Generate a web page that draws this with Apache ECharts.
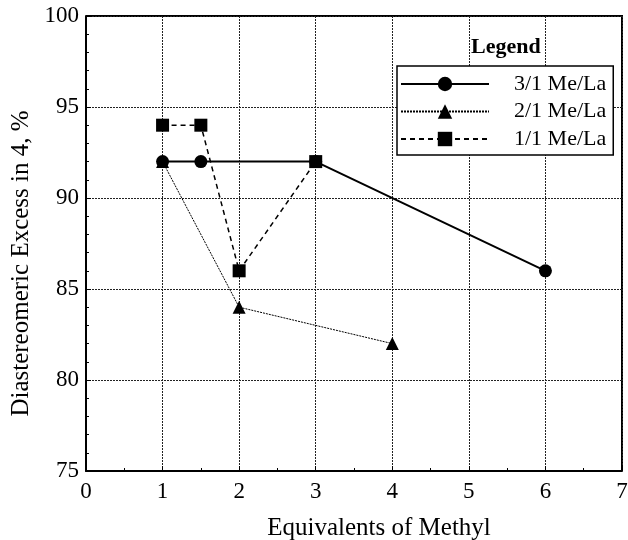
<!DOCTYPE html>
<html lang="en">
<head>
    <meta charset="UTF-8">
    <title>Diastereomeric Excess</title>
    <style>
        body{ margin:0; background:#fff; }
        #main{ width:628px; height:540px; }
    </style>
    <script src="https://cdn.jsdelivr.net/npm/echarts@6/dist/echarts.min.js"></script>
</head>
<body>
<div id="main"></div>
<script type="text/javascript">
    // data
    var names = ['3/1 Me/La', '2/1 Me/La', '1/1 Me/La'];
    var ratio31 = [[1, 92], [1.5, 92], [3, 92], [6, 86]];
    var ratio21 = [[1, 92], [2, 84], [4, 82]];
    var ratio11 = [[1, 94], [1.5, 94], [2, 86], [3, 92]];

    var serif = '"Liberation Serif", "DejaVu Serif", serif';
    var myChart = echarts.init(document.getElementById('main'));

    var option = {
        animation: false,
        title: {
            text: 'Legend',
            left: 466, top: 31,
            textStyle: { fontFamily: serif, fontSize: 22, fontWeight: 'bold', color: '#000' }
        },
        legend: {
            data: names,
            orient: 'vertical',
            left: 397, top: 66,
            itemWidth: 88, itemHeight: 18, itemGap: 5.5,
            padding: [7, 7, 5, 3],
            borderColor: '#000', borderWidth: 1.5,
            backgroundColor: '#fff',
            textStyle: { fontFamily: serif, fontSize: 22, color: '#000', padding: [0, 0, 0, 20] }
        },
        grid: { left: 86, right: 6, top: 16, bottom: 69, show: false, outerBoundsMode: 'none', containLabel: false },
        xAxis: {
            type: 'value',
            min: 0, max: 7, interval: 1,
            name: 'Equivalents of Methyl',
            nameLocation: 'middle', nameGap: 45,
            nameTextStyle: { fontFamily: serif, fontSize: 25, color: '#000', padding: [0, 0, 0, 50] },
            axisLine: { lineStyle: { color: '#000', width: 2 } },
            axisTick: { inside: true, length: 5, lineStyle: { color: '#000' } },
            minorTick: { show: true, splitNumber: 2, length: 3, lineStyle: { color: '#000' } },
            axisLabel: { fontFamily: serif, fontSize: 23, color: '#000', margin: 9 },
            splitLine: { show: true, lineStyle: { color: '#222', type: [2, 1], width: 1 } }
        },
        yAxis: {
            type: 'value',
            min: 75, max: 100, interval: 5,
            name: 'Diastereomeric Excess in 4, %',
            nameLocation: 'middle', nameGap: 38,
            nameTextStyle: { fontFamily: serif, fontSize: 25, color: '#000', padding: [0, 40, 0, 0] },
            axisLine: { show: true, lineStyle: { color: '#000', width: 2 } },
            axisTick: { inside: true, length: 5, lineStyle: { color: '#000' } },
            minorTick: { show: true, splitNumber: 5, length: 3, lineStyle: { color: '#000' } },
            axisLabel: { fontFamily: serif, fontSize: 23, color: '#000', margin: 7 },
            splitLine: { show: true, lineStyle: { color: '#222', type: [2, 1], width: 1 } }
        },
        series: [
            {
                name: names[0], type: 'line', data: ratio31,
                symbol: 'circle', symbolSize: 13,
                itemStyle: { color: '#000' },
                lineStyle: { color: '#000', width: 2, type: 'solid' }
            },
            {
                name: names[1], type: 'line', data: ratio21,
                symbol: 'triangle', symbolSize: 13,
                itemStyle: { color: '#000' },
                lineStyle: { color: '#000', width: 1, type: [2, 1] }
            },
            {
                name: names[2], type: 'line', data: ratio11,
                symbol: 'rect', symbolSize: 13,
                itemStyle: { color: '#000' },
                lineStyle: { color: '#000', width: 1.5, type: [5, 4] }
            }
        ],
        graphic: [{
            // top and right frame of the plot
            type: 'polyline', silent: true,
            shape: { points: [[86, 16], [622, 16], [622, 471]] },
            style: { stroke: '#000', lineWidth: 2, fill: null }
        }]
    };
    myChart.setOption(option);
</script>
</body>
</html>
